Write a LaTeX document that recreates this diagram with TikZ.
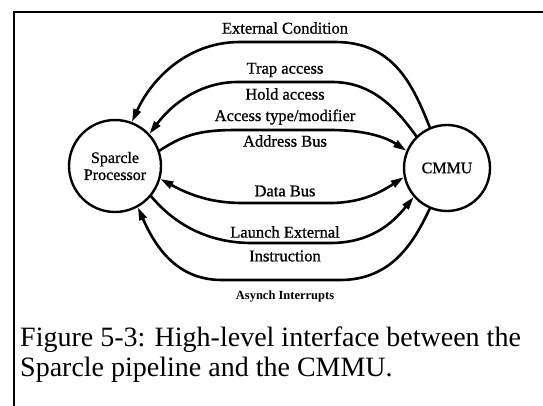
\documentclass[tikz,border=0pt]{standalone}
\usepackage{fontspec}
\setmainfont{Liberation Serif}
\newfontfamily\lblfont[FakeBold=0.9]{Liberation Serif}
\usetikzlibrary{arrows.meta}
\tikzset{
  proc/.style={draw, circle, line width=2.4pt, inner sep=0pt, align=center,
    font=\lblfont\fontsize{16}{17}\selectfont},
  wire/.style={line width=2.6pt, line cap=round},
  tip/.style={-{Triangle[length=13pt,width=7.5pt]}},
  lbl/.style={font=\lblfont\fontsize{16.5}{18}\selectfont, inner sep=0pt},
  slbl/.style={font=\fontsize{12.5}{14}\selectfont\bfseries, inner sep=0pt},
  capt/.style={font=\fontsize{28}{31}\selectfont, inner sep=0pt, anchor=west},
  frame/.style={line width=1.4pt}
}
\begin{document}
\begin{tikzpicture}[x=1pt,y=-1pt]
\useasboundingbox (0,0) rectangle (543,406);
\fill[white] (0,0) rectangle (543,406);
\coordinate (fa) at (543,12);
\coordinate (fb) at (14,12);
\coordinate (fc) at (14,406);
\draw[frame] (fa) -- (fb) -- (fc);

\node[proc, minimum size=92pt] (sp) at (115,166) {Sparcle\\[0pt]Processor};
\node[proc, minimum size=86pt] (cm) at (447,168) {CMMU};

% External Condition
\draw[wire, tip] (cm.113) .. controls (412,82) and (392,42) .. (335,42)
  -- (240,42) .. controls (188,42) and (152,78) .. (sp.69);
% Trap / Hold access
\draw[wire, tip] (cm.134) .. controls (396,108) and (372,82) .. (332,82)
  -- (238,82) .. controls (200,82) and (172,104) .. (sp.43);
% Access type / Address Bus
\draw[wire, tip] (sp.19) .. controls (186,133) and (204,130) .. (238,130)
  -- (330,130) .. controls (362,130) and (384,136) .. (cm.157);
% Data Bus
\draw[wire, {Triangle[length=13pt,width=7.5pt]}-{Triangle[length=13pt,width=7.5pt]}]
  (sp.-16) .. controls (188,194) and (210,203) .. (242,203)
  -- (330,203) .. controls (364,203) and (384,190) .. (cm.192);
% Launch External Instruction
\draw[wire, tip] (sp.-40) .. controls (176,226) and (210,243) .. (252,243)
  -- (330,243) .. controls (370,243) and (392,224) .. (cm.221);
% Asynch Interrupts
\draw[wire, tip] (cm.247) .. controls (414,242) and (392,280) .. (340,280)
  -- (222,280) .. controls (176,280) and (155,246) .. (sp.-61);

\node[lbl] (l1) at (285,28) {External Condition};
\node[lbl] (l2) at (285,70) {Trap access};
\node[lbl] (l3) at (285,94) {Hold access};
\node[lbl] (l4) at (285,117) {Access type/modifier};
\node[lbl] (l5) at (285,141) {Address Bus};
\node[lbl] (l6) at (285,191) {Data Bus};
\node[lbl] (l7) at (285,232) {Launch External};
\node[lbl] (l8) at (285,256) {Instruction};
\node[slbl] (l9) at (285,297) {Asynch Interrupts};

\node[capt] (c1) at (20,340) {Figure 5-3: High-level interface between the};
\node[capt] (c2) at (20,370) {Sparcle pipeline and the CMMU.};
\end{tikzpicture}
\end{document}
